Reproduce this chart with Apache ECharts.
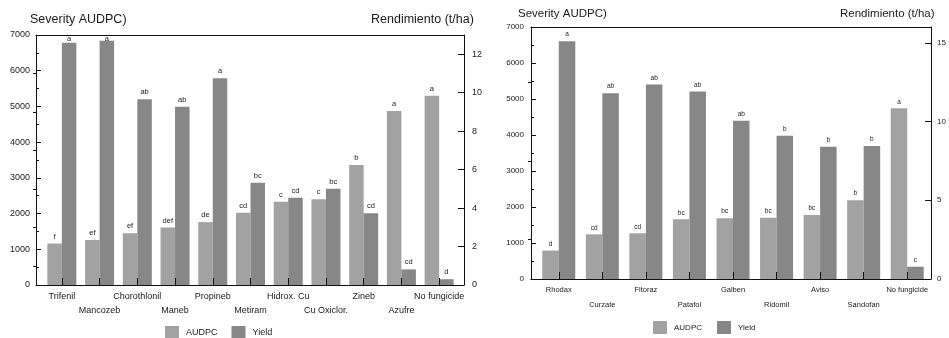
<!DOCTYPE html>
<html>
<head>
<meta charset="utf-8">
<script src="https://cdn.jsdelivr.net/npm/echarts@6/dist/echarts.min.js"></script>
<style>
html,body{margin:0;padding:0;background:#fff;}
#chart{width:949px;height:338px;}
</style>
</head>
<body>
<div id="chart"></div>
<script>
// left panel
var catsL = ['Trifenil','Mancozeb','Chorothlonil','Maneb','Propineb','Metiram','Hidrox. Cu','Cu Oxiclor.','Zineb','Azufre','No fungicide'];
var audpcL = [1160, 1260, 1450, 1610, 1760, 2020, 2330, 2400, 3360, 4870, 5300];
var yieldL = [12.6, 12.7, 9.66, 9.27, 10.75, 5.32, 4.54, 5.01, 3.73, 0.81, 0.30];
var audpcLetL = ['f','ef','ef','def','de','cd','c','c','b','a','a'];
var yieldLetL = ['a','a','ab','ab','a','bc','cd','bc','cd','cd','d'];
var yTicksL = [0, 2, 4, 6, 8, 10, 12];
var yMinorL = [1, 3, 5, 7, 9, 11];

// right panel
var catsR = ['Rhodax','Curzate','Fitoraz','Patafol','Galben','Ridomil','Aviso','Sandofan','No fungicide'];
var audpcR = [790, 1240, 1270, 1660, 1690, 1700, 1780, 2190, 4740];
var yieldR = [15.1, 11.8, 12.35, 11.9, 10.05, 9.1, 8.4, 8.45, 0.78];
var audpcLetR = ['d','cd','cd','bc','bc','bc','bc','b','a'];
var yieldLetR = ['a','ab','ab','ab','ab','b','b','b','c'];
var yTicksR = [0, 5, 10, 15];
var yMinorR = [2.5, 7.5, 12.5];

var FONT = '"Liberation Sans", Arial, sans-serif';
var TXT = '#1a1a1a';
var C_AUDPC = '#a2a2a2';
var C_YIELD = '#878787';

var myChart = echarts.init(document.getElementById('chart'));

function line() {
	return {show: true, onZero: false, lineStyle: {color: '#111', width: 1}};
}
function plain(v) { return String(v); }

// frame + bar grids for one panel
function panel(p) {
	var g0 = p.gi, x0 = p.xi, y0 = p.yi;
	var grids = [
		{left: p.fl, top: p.top, width: p.fw, height: p.h},      // frame
		{left: p.bl, top: p.top, width: p.bw, height: p.h}       // bars
	];
	var xAxes = [
		{type: 'value', gridIndex: g0, min: 0, max: 1, position: 'bottom', axisLine: line(), z: 5,
			axisTick: {show: false}, axisLabel: {show: false}, splitLine: {show: false}},
		{type: 'value', gridIndex: g0, min: 0, max: 1, position: 'top', axisLine: line(),
			axisTick: {show: false}, axisLabel: {show: false}, splitLine: {show: false}},
		{type: 'category', gridIndex: g0 + 1, data: p.cats, position: 'bottom', z: 5,
			axisLine: {show: false},
			axisTick: {show: true, inside: true, alignWithLabel: true, length: 7, lineStyle: {color: '#111', width: 1}},
			axisLabel: {interval: 0, margin: p.xMargin, color: TXT, fontFamily: FONT, fontSize: p.xFont, lineHeight: p.xLine,
				formatter: function(v, i) { return i % 2 ? '\n' + v : v; }}}
	];
	var yAxes = [
		{type: 'value', gridIndex: g0, position: 'left', min: 0, max: 7000, interval: 1000,
			axisLine: line(), axisTick: {inside: true, length: 5, lineStyle: {color: '#111'}},
			minorTick: {show: true, splitNumber: 2, length: 3, lineStyle: {color: '#111'}},
			axisLabel: {margin: p.lMargin, color: TXT, fontFamily: FONT, fontSize: p.yFont, formatter: plain},
			splitLine: {show: false}},
		{type: 'value', gridIndex: g0, position: 'right', min: 0, max: p.rMax,
			axisLine: line(),
			axisTick: {inside: true, length: 6, customValues: p.rTicks, lineStyle: {color: '#111'}},
			axisLabel: {margin: p.rMargin, color: TXT, fontFamily: FONT, fontSize: p.yFont, customValues: p.rTicks, formatter: plain},
			splitLine: {show: false}},
		{type: 'value', gridIndex: g0, position: 'right', min: 0, max: p.rMax,
			axisLine: {show: false},
			axisTick: {inside: true, length: 3, customValues: p.rMinor, lineStyle: {color: '#111'}},
			axisLabel: {show: false}, splitLine: {show: false}},
		{type: 'value', gridIndex: g0 + 1, min: 0, max: 7000, show: false},
		{type: 'value', gridIndex: g0 + 1, min: 0, max: p.rMax, show: false}
	];
	// letters above the bars; pulled down a bit near the top of the frame
	function items(vals, lets, max) {
		return vals.map(function(v, i) {
			var barTop = p.top + p.h * (1 - v / max);
			return {value: v, label: {distance: Math.min(3, barTop - (p.top + 8)), formatter: lets[i]}};
		});
	}
	var lab = {show: true, position: 'top', color: TXT, fontFamily: FONT, fontSize: p.barFont};
	var series = [
		{name: 'AUDPC', type: 'bar', xAxisIndex: x0 + 2, yAxisIndex: y0 + 3, barWidth: p.barW, barGap: '0%',
			itemStyle: {color: C_AUDPC}, label: lab, data: items(p.audpc, p.audpcLet, 7000)},
		{name: 'Yield', type: 'bar', xAxisIndex: x0 + 2, yAxisIndex: y0 + 4, barWidth: p.barW, barGap: '0%',
			itemStyle: {color: C_YIELD}, label: lab, data: items(p.yield, p.yieldLet, p.rMax)}
	];
	var legend = {left: p.legL, top: p.legT, padding: 0, itemWidth: 14, itemHeight: 13, itemGap: p.legGap,
		icon: 'rect', data: ['AUDPC', 'Yield'], selectedMode: false,
		textStyle: {color: TXT, fontFamily: FONT, fontSize: p.legFont, padding: [0, 0, 0, 2]}};
	var texts = [
		{type: 'text', left: p.t1x, top: p.t1y, style: {text: 'Severity AUDPC)', fill: TXT, font: p.tFont + 'px ' + FONT}},
		{type: 'text', left: p.t2x, top: p.t2y, style: {text: 'Rendimiento (t/ha)', fill: TXT, font: p.tFont + 'px ' + FONT}}
	];
	return {grids: grids, xAxes: xAxes, yAxes: yAxes, series: series, legend: legend, texts: texts};
}

var L = panel({gi: 0, xi: 0, yi: 0, fl: 36, fw: 428, bl: 43, bw: 415, top: 35, h: 250,
	cats: catsL, audpc: audpcL, yield: yieldL, audpcLet: audpcLetL, yieldLet: yieldLetL,
	rMax: 13, rTicks: yTicksL, rMinor: yMinorL,
	xMargin: 5, xFont: 9, xLine: 14, yFont: 9, lMargin: 6, rMargin: 8, barFont: 7.5, barW: 14.5,
	legL: 165, legT: 326, legGap: 14, legFont: 9,
	tFont: 12.5, t1x: 30, t1y: 13, t2x: 371, t2y: 13});
var R = panel({gi: 2, xi: 3, yi: 5, fl: 531, fw: 403, bl: 537, bw: 392, top: 27, h: 252,
	cats: catsR, audpc: audpcR, yield: yieldR, audpcLet: audpcLetR, yieldLet: yieldLetR,
	rMax: 16, rTicks: yTicksR, rMinor: yMinorR,
	xMargin: 3, xFont: 7.5, xLine: 15, yFont: 8, lMargin: 7, rMargin: 6, barFont: 6.5, barW: 16.5,
	legL: 653, legT: 321, legGap: 15, legFont: 8,
	tFont: 11.5, t1x: 518, t1y: 8, t2x: 840, t2y: 8});

var option = {
	animation: false,
	backgroundColor: '#fff',
	grid: L.grids.concat(R.grids),
	xAxis: L.xAxes.concat(R.xAxes),
	yAxis: L.yAxes.concat(R.yAxes),
	legend: [L.legend, R.legend],
	graphic: L.texts.concat(R.texts),
	series: L.series.concat(R.series)
};
myChart.setOption(option);

window.addEventListener('resize', function() { myChart.resize(); });
</script>
</body>
</html>
